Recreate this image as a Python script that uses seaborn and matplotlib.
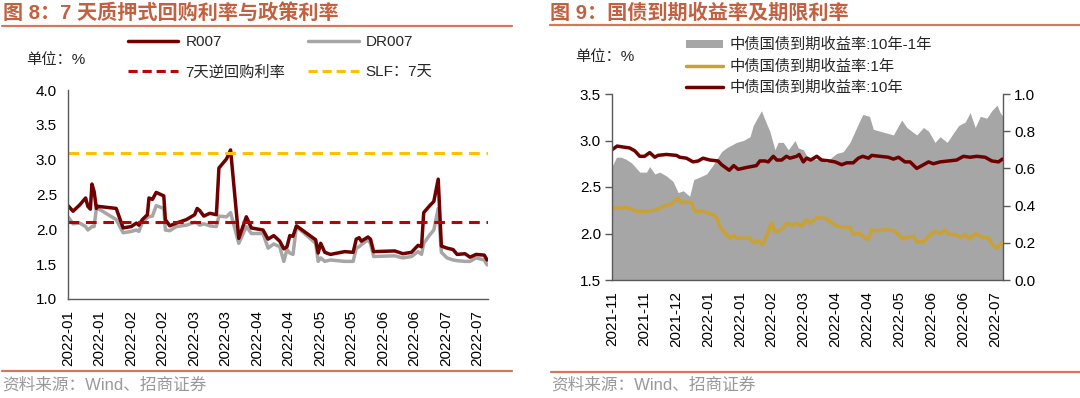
import numpy as np
import matplotlib
matplotlib.use("Agg")
import matplotlib.pyplot as plt
import seaborn as sns
from matplotlib.lines import Line2D
from matplotlib.patches import Patch

# ---- 图8 data: position = trading day since 2022-01-04 ----
repo_day = [0.0, 1.6, 3.7, 5.6, 6.3, 7.1, 7.6, 8.3, 9.0, 9.5,
            15.3, 17.5, 20.1, 21.7, 22.5, 23.6, 25.2, 25.7, 26.8, 28.0,
            30.4, 30.9, 32.3, 34.4, 37.6, 40.2, 41.0, 41.8, 43.1, 45.0,
            47.1, 47.9, 50.3, 51.6, 54.2, 56.6, 58.2, 61.9, 63.5, 65.3,
            67.2, 68.5, 69.5, 70.4, 71.4, 72.5, 78.6, 79.4, 80.2, 81.5,
            83.3, 87.8, 90.5, 91.5, 92.4, 93.1, 95.2, 96.0, 97.0, 103.7,
            106.3, 109.0, 111.1, 112.2, 112.9, 114.8, 116.1, 117.5, 118.5, 120.3,
            122.2, 123.5, 126.0, 127.6, 129.5, 132.1, 133.0]
r007 = [2.34, 2.26, 2.35, 2.45, 2.33, 2.29, 2.65, 2.54, 2.30, 2.33,
        2.30, 2.02, 2.04, 2.09, 2.06, 2.14, 2.21, 2.45, 2.43, 2.53,
        2.48, 2.14, 2.05, 2.09, 2.14, 2.21, 2.30, 2.27, 2.19, 2.23,
        2.21, 2.88, 3.01, 3.14, 1.87, 2.18, 2.02, 1.99, 1.86, 1.91,
        1.83, 1.72, 1.75, 1.91, 1.90, 2.05, 1.85, 1.66, 1.80, 1.67,
        1.64, 1.68, 1.67, 1.86, 1.88, 1.83, 1.89, 1.86, 1.68, 1.69,
        1.65, 1.67, 1.77, 1.75, 2.24, 2.34, 2.40, 2.72, 1.76, 1.73,
        1.71, 1.64, 1.65, 1.60, 1.64, 1.63, 1.56]
dr007 = [2.18, 2.08, 2.09, 2.04, 1.99, 2.02, 2.04, 2.04, 2.30, 2.30,
         2.14, 1.95, 1.97, 1.99, 1.97, 2.10, 2.17, 2.18, 2.19, 2.34,
         2.30, 1.99, 1.98, 2.04, 2.06, 2.10, 2.09, 2.06, 2.08, 2.05,
         2.04, 2.19, 2.18, 2.24, 1.80, 2.04, 1.94, 1.94, 1.73, 1.79,
         1.75, 1.54, 1.71, 1.66, 1.64, 2.04, 1.80, 1.54, 1.59, 1.54,
         1.56, 1.54, 1.54, 1.73, 1.75, 1.78, 1.85, 1.80, 1.61, 1.62,
         1.59, 1.61, 1.68, 1.64, 1.80, 1.92, 1.99, 2.30, 1.67, 1.59,
         1.56, 1.55, 1.54, 1.54, 1.59, 1.56, 1.49]
reverse_repo_7d = 2.10
slf_7d = 3.10
repo_ticks = ["2022-01", "2022-01", "2022-02", "2022-02", "2022-03", "2022-03", "2022-04",
              "2022-04", "2022-05", "2022-05", "2022-06", "2022-06", "2022-07", "2022-07"]

# ---- 图9 data: position = trading day since 2021-11-01 ----
y10_day = [0.0, 1.6, 3.4, 5.5, 7.1, 8.7, 10.2, 11.8, 13.4, 14.4,
           17.0, 20.2, 21.2, 23.3, 25.4, 27.0, 28.5, 30.6, 33.2, 34.3,
           36.7, 38.1, 39.5, 42.1, 45.2, 46.3, 47.9, 48.9, 50.5, 51.6,
           53.1, 54.6, 55.7, 57.8, 58.6, 59.9, 60.9, 62.2, 64.1, 65.6,
           68.2, 69.8, 71.9, 73.5, 75.5, 77.1, 78.5, 80.3, 81.3, 83.9,
           86.5, 88.1, 89.7, 91.7, 93.3, 95.4, 97.0, 99.1, 100.6, 102.7,
           105.3, 107.9, 110.0, 112.1, 114.2, 116.8, 118.9, 121.0, 122.2]
y10 = [2.90, 2.94, 2.93, 2.92, 2.89, 2.83, 2.83, 2.87, 2.82, 2.84,
       2.85, 2.84, 2.82, 2.81, 2.77, 2.78, 2.81, 2.79, 2.78, 2.74,
       2.68, 2.73, 2.69, 2.71, 2.73, 2.78, 2.78, 2.77, 2.83, 2.79,
       2.79, 2.83, 2.81, 2.83, 2.85, 2.77, 2.81, 2.79, 2.83, 2.79,
       2.78, 2.77, 2.74, 2.76, 2.76, 2.81, 2.83, 2.81, 2.84, 2.83,
       2.82, 2.80, 2.82, 2.77, 2.77, 2.70, 2.73, 2.77, 2.75, 2.77,
       2.78, 2.79, 2.83, 2.82, 2.83, 2.82, 2.78, 2.77, 2.80]
y1_day = [0.0, 2.4, 4.5, 7.6, 10.8, 13.4, 16.0, 18.6, 20.7, 21.7,
          23.3, 24.9, 25.9, 28.0, 30.1, 32.7, 33.8, 35.3, 36.9, 38.2,
          39.0, 43.2, 44.2, 45.8, 47.1, 48.4, 49.9, 51.0, 53.1, 54.6,
          56.7, 57.8, 59.4, 60.9, 62.0, 64.1, 67.2, 68.8, 71.4, 74.5,
          75.5, 77.6, 79.2, 80.3, 81.3, 82.9, 85.5, 88.1, 89.7, 91.2,
          92.3, 94.4, 95.4, 97.5, 99.6, 101.1, 102.7, 104.3, 105.3, 107.4,
          109.0, 110.6, 111.9, 113.7, 115.8, 117.9, 118.9, 120.5, 122.0]
y1 = [2.28, 2.27, 2.28, 2.24, 2.24, 2.25, 2.29, 2.32, 2.38, 2.33,
      2.34, 2.33, 2.24, 2.24, 2.22, 2.18, 2.07, 2.01, 1.95, 1.98,
      1.95, 1.95, 1.90, 1.92, 1.88, 1.98, 2.11, 2.02, 2.04, 2.11,
      2.09, 2.11, 2.08, 2.15, 2.11, 2.17, 2.16, 2.11, 2.07, 2.07,
      1.99, 2.00, 1.95, 1.94, 2.04, 2.03, 2.04, 2.03, 1.99, 1.94,
      1.96, 1.97, 1.91, 1.91, 1.99, 2.02, 2.00, 2.04, 1.99, 1.99,
      1.96, 1.99, 1.94, 2.00, 1.96, 1.95, 1.89, 1.84, 1.90]
spread_day = [0.0, 1.4, 2.9, 4.3, 6.1, 8.7, 10.8, 11.8, 13.4, 14.9,
              17.0, 19.1, 20.7, 22.3, 24.3, 25.6, 27.0, 29.6, 31.7, 34.3,
              35.8, 39.0, 41.1, 43.2, 44.2, 45.8, 46.8, 47.9, 49.4, 51.0,
              52.0, 53.6, 55.2, 57.3, 58.3, 59.9, 60.9, 63.0, 65.1, 67.2,
              68.8, 70.3, 72.4, 74.5, 76.6, 78.5, 80.6, 81.8, 83.9, 86.0,
              88.1, 89.7, 90.7, 92.3, 93.8, 95.4, 97.5, 99.1, 101.1, 102.7,
              104.9, 106.9, 108.5, 110.6, 112.1, 113.7, 115.3, 117.3, 118.9, 120.5,
              121.5, 122.4]
spread = [0.61, 0.66, 0.66, 0.65, 0.63, 0.58, 0.58, 0.61, 0.57, 0.58,
          0.56, 0.53, 0.47, 0.48, 0.45, 0.54, 0.55, 0.57, 0.62, 0.69,
          0.71, 0.74, 0.75, 0.77, 0.83, 0.88, 0.91, 0.86, 0.80, 0.70,
          0.74, 0.74, 0.70, 0.75, 0.71, 0.70, 0.67, 0.65, 0.65, 0.63,
          0.66, 0.68, 0.69, 0.74, 0.82, 0.89, 0.88, 0.81, 0.80, 0.79,
          0.78, 0.83, 0.86, 0.82, 0.80, 0.78, 0.82, 0.80, 0.74, 0.77,
          0.74, 0.79, 0.83, 0.85, 0.90, 0.82, 0.88, 0.87, 0.91, 0.94,
          0.90, 0.88]
bond_ticks = ["2021-11", "2021-11", "2021-12", "2022-01", "2022-01", "2022-02", "2022-03",
              "2022-04", "2022-04", "2022-05", "2022-06", "2022-06", "2022-07"]

sns.set_theme(style="white")
plt.rcParams["font.family"] = ["Liberation Sans", "Noto Sans CJK SC"]
plt.rcParams["font.size"] = 11
plt.rcParams["axes.unicode_minus"] = False

DARK_RED = "#6E0000"
GREY_LINE = "#A6A6A6"
TITLE_COL = "#C3603F"
AXIS_COL = "#595959"

fig = plt.figure(figsize=(10.8, 3.98), dpi=100)


def style_axis(ax, sides):
    for s in ["top", "right", "left", "bottom"]:
        ax.spines[s].set_visible(s in sides)
        ax.spines[s].set_color(AXIS_COL)
        ax.spines[s].set_linewidth(1.0)
    ax.tick_params(axis="both", direction="out", length=5, width=1,
                   color=AXIS_COL, labelsize=11, labelcolor="black", pad=3)


# ================= left: 图8 =================
ax1 = fig.add_axes([68 / 1080, 1 - 299 / 398, 420 / 1080, 209 / 398])
sns.lineplot(x=repo_day, y=dr007, ax=ax1, color=GREY_LINE, linewidth=2.5)
sns.lineplot(x=repo_day, y=r007, ax=ax1, color=DARK_RED, linewidth=2.5)
ax1.axhline(reverse_repo_7d, color="#C00000", linestyle=(0, (3.5, 2.2)), linewidth=2.2)
ax1.axhline(slf_7d, color="#FFC000", linestyle=(0, (3.5, 2.2)), linewidth=2.2)
ax1.set_xlim(0, 133.3)
ax1.set_ylim(1.0, 4.0)
ax1.set_yticks(np.arange(1.0, 4.01, 0.5))
ax1.set_yticklabels([f"{v:.1f}" for v in np.arange(1.0, 4.01, 0.5)])
ax1.set_xticks(np.arange(len(repo_ticks)) * 10)
ax1.set_xticklabels(repo_ticks, rotation=90)
ax1.set_xlabel("")
ax1.set_ylabel("")
style_axis(ax1, ["left", "bottom"])

h_left = [Line2D([], [], color=DARK_RED, lw=2.5),
          Line2D([], [], color="#C00000", lw=2.2, ls=(0, (3, 1.6))),
          Line2D([], [], color=GREY_LINE, lw=2.5),
          Line2D([], [], color="#FFC000", lw=2.2, ls=(0, (3, 1.6)))]
l_left = ["R007", "7天逆回购利率", "DR007", "SLF：7天"]
fig.legend(h_left, l_left, ncol=2, loc="upper left", frameon=False,
           bbox_to_anchor=(128 / 1080, 1 - 35 / 398), fontsize=11,
           handlelength=3.3, handletextpad=0.45, columnspacing=1.5,
           labelspacing=1.05, borderpad=0, borderaxespad=0)
fig.text(26 / 1080, 1 - 60 / 398, "单位：%", fontsize=11, va="center", ha="left")

# ================= right: 图9 =================
ax2 = fig.add_axes([612 / 1080, 1 - 280 / 398, 391 / 1080, 186 / 398])
ax3 = ax2.twinx()
ax3.fill_between(spread_day, 0, spread, color="#A6A6A6", linewidth=0)
ax3.set_ylim(0, 1.0)
ax3.set_yticks(np.arange(0, 1.01, 0.2))
ax3.set_yticklabels([f"{v:.1f}" for v in np.arange(0, 1.01, 0.2)])
ax2.set_zorder(ax3.get_zorder() + 1)
ax2.patch.set_visible(False)
sns.lineplot(x=y1_day, y=y1, ax=ax2, color="#C9A233", linewidth=2.5)
sns.lineplot(x=y10_day, y=y10, ax=ax2, color=DARK_RED, linewidth=2.5)
ax2.set_xlim(0, 122.4)
ax2.set_ylim(1.5, 3.5)
ax2.set_yticks(np.arange(1.5, 3.51, 0.5))
ax2.set_yticklabels([f"{v:.1f}" for v in np.arange(1.5, 3.51, 0.5)])
ax2.set_xticks(np.arange(len(bond_ticks)) * 10)
ax2.set_xticklabels(bond_ticks, rotation=90)
ax2.set_xlabel("")
ax2.set_ylabel("")
style_axis(ax2, ["left", "bottom"])
style_axis(ax3, ["right"])
ax3.set_ylabel("")

h_right = [Patch(facecolor="#A6A6A6", edgecolor="none"),
           Line2D([], [], color="#C9A233", lw=2.5),
           Line2D([], [], color=DARK_RED, lw=2.5)]
l_right = ["中债国债到期收益率:10年-1年", "中债国债到期收益率:1年", "中债国债到期收益率:10年"]
fig.legend(h_right, l_right, ncol=1, loc="upper left", frameon=False,
           bbox_to_anchor=(686 / 1080, 1 - 38 / 398), fontsize=11,
           handlelength=2.4, handleheight=0.5, handletextpad=0.45,
           labelspacing=0.45, borderpad=0, borderaxespad=0)
fig.text(575 / 1080, 1 - 57 / 398, "单位：%", fontsize=11, va="center", ha="left")

# ================= titles, rules, sources =================
fig.text(3 / 1080, 1 - 13 / 398, "图 8：7 天质押式回购利率与政策利率", fontsize=14.5,
         fontweight="bold", color=TITLE_COL, va="center", ha="left")
fig.text(550 / 1080, 1 - 13 / 398, "图 9：国债到期收益率及期限利率", fontsize=14.5,
         fontweight="bold", color=TITLE_COL, va="center", ha="left")
for x0, x1, yy in [(2, 512, 26), (550, 1080, 25), (2, 512, 371), (551, 1080, 372)]:
    fig.add_artist(Line2D([x0 / 1080, x1 / 1080], [1 - yy / 398, 1 - yy / 398],
                          color="#D4785A", linewidth=1.6))
fig.text(2 / 1080, 1 - 385 / 398, "资料来源：Wind、招商证券", fontsize=12,
         color="#999999", va="center", ha="left")
fig.text(551 / 1080, 1 - 385 / 398, "资料来源：Wind、招商证券", fontsize=12,
         color="#999999", va="center", ha="left")

fig.savefig("out.png", dpi=100)
